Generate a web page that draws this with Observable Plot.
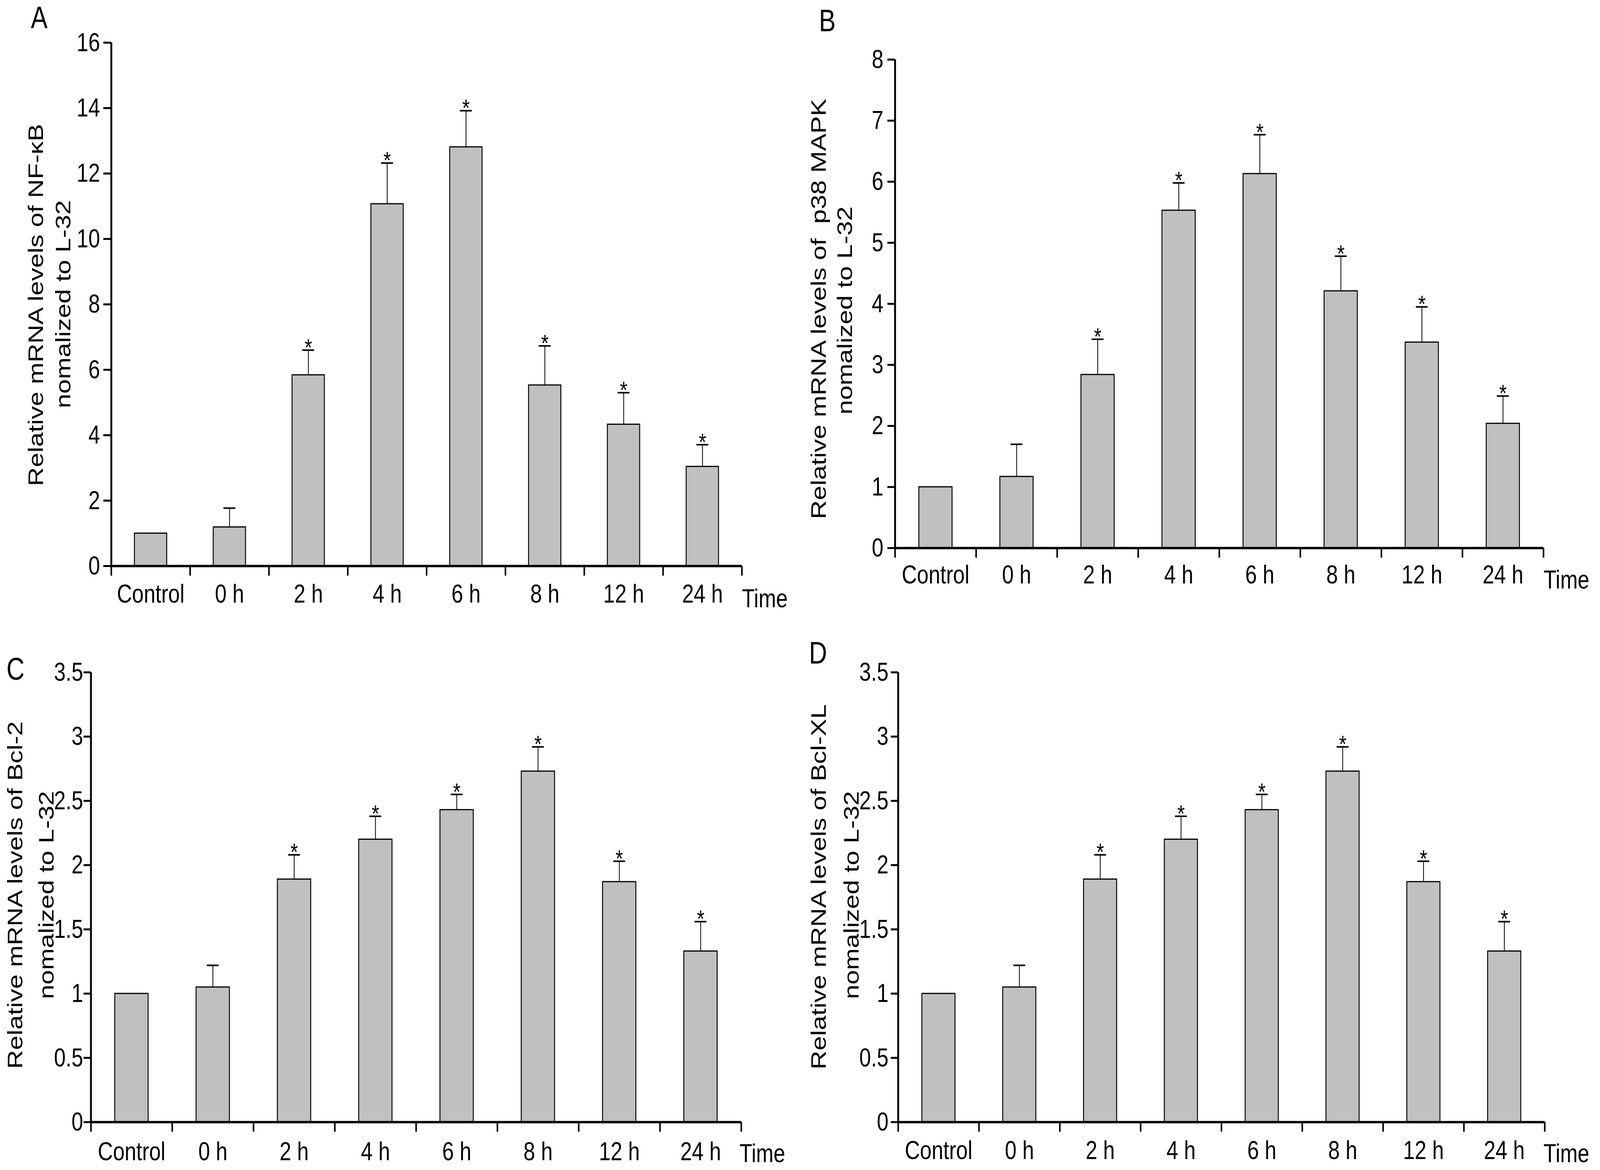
<!DOCTYPE html>
<html>
<head>
<meta charset="utf-8">
<script src="https://cdn.jsdelivr.net/npm/d3@7"></script>
<script src="https://cdn.jsdelivr.net/npm/@observablehq/plot@0.6"></script>
<style>
  html, body { margin: 0; padding: 0; background: #fff; overflow: hidden; }
  #fig { position: relative; background: #fff; overflow: hidden; }
  #fig svg { position: absolute; }
</style>
</head>
<body>
<div id="fig"></div>
<script>
// ---------------- data ----------------
const categories = ["Control", "0 h", "2 h", "4 h", "6 h", "8 h", "12 h", "24 h"];
const significant = [false, false, true, true, true, true, true, true];

const nfkbMean = [1.0, 1.19, 5.84, 11.07, 12.81, 5.53, 4.33, 3.04];
const nfkbErr  = [0, 0.58, 0.76, 1.25, 1.11, 1.20, 0.97, 0.67];

const p38Mean = [1.0, 1.17, 2.84, 5.53, 6.13, 4.21, 3.37, 2.04];
const p38Err  = [0, 0.53, 0.58, 0.45, 0.64, 0.57, 0.58, 0.45];

const bcl2Mean = [1.0, 1.05, 1.89, 2.20, 2.43, 2.73, 1.87, 1.33];
const bcl2Err  = [0, 0.17, 0.19, 0.18, 0.12, 0.19, 0.16, 0.23];

const bclxlMean = [1.0, 1.05, 1.89, 2.20, 2.43, 2.73, 1.87, 1.33];
const bclxlErr  = [0, 0.17, 0.19, 0.18, 0.12, 0.19, 0.16, 0.23];

const nfkbTicks = [0, 2, 4, 6, 8, 10, 12, 14, 16];
const p38Ticks  = [0, 1, 2, 3, 4, 5, 6, 7, 8];
const bclTicks  = [0, 0.5, 1, 1.5, 2, 2.5, 3, 3.5];

const xTitle = "Time";
const yTitle2 = "nomalized to L-32";

// ---------------- drawing ----------------
const FONT = "'Liberation Sans', Arial, Helvetica, sans-serif";
const W = 5110, H = 2994;
// fit the 5110x2994 design to the actual viewport
const VW = window.innerWidth || W, VH = window.innerHeight || H;
const SX = VW / W, SY = VH / H;
const fig = document.getElementById("fig");
fig.style.width = VW + "px";
fig.style.height = VH + "px";

function panel(cfg) {
  const {letter, title1, mean, err, ticks, box, frame, yTick, t1, t2, letterPos, time, labelPad} = cfg;
  const rows = categories.map((c, i) => ({i, c, mean: mean[i], err: err[i], sig: significant[i]}));
  const withErr = rows.filter(d => d.err > 0);
  const step = (frame.right - frame.left) / categories.length;
  const inset = step * 0.295;
  const midY = (frame.top + frame.bottom) / 2;

  const svg = Plot.plot({
    width: box.w,
    height: box.h,
    marginLeft: frame.left - box.x,
    marginRight: box.x + box.w - frame.right,
    marginTop: frame.top - box.y,
    marginBottom: box.y + box.h - frame.bottom,
    style: {fontFamily: FONT, fontSize: "67px", background: "transparent", color: "black"},
    x: {domain: [0, categories.length]},
    y: {domain: [0, ticks[ticks.length - 1]]},
    marks: [
      // bars
      Plot.rect(rows, {x1: "i", x2: d => d.i + 1, y1: 0, y2: "mean", insetLeft: inset, insetRight: inset,
        fill: "#c0c0c0", stroke: "black", strokeWidth: 3}),
      // error whiskers and caps
      Plot.ruleX(withErr, {x: d => d.i + 0.5, y1: "mean", y2: d => d.mean + d.err, stroke: "black", strokeWidth: 2.5}),
      Plot.ruleY(withErr, {y: d => d.mean + d.err, x1: d => d.i + 0.5, x2: d => d.i + 0.5,
        insetLeft: -19, insetRight: -19, stroke: "black", strokeWidth: 4}),
      // significance stars
      Plot.text(rows.filter(d => d.sig), {x: d => d.i + 0.5, y: d => d.mean + d.err, text: () => "*",
        fontSize: 62, lineAnchor: "bottom", dy: 14}),
      // axis lines
      Plot.ruleX([0], {stroke: "black", strokeWidth: 6}),
      Plot.ruleY([0], {stroke: "black", strokeWidth: 6}),
      // y axis
      Plot.axisY({ticks, tickSize: yTick.size, tickPadding: yTick.pad, tickFormat: d => String(d),
        strokeWidth: 5, fontSize: 67, label: null}),
      // x axis: boundary ticks
      Plot.axisX({ticks: d3.range(0, categories.length + 1), tickSize: 25, tickFormat: () => "",
        strokeWidth: 5, label: null}),
      // x axis: category labels
      Plot.axisX({ticks: categories.map((_, i) => i + 0.5), tickFormat: v => categories[Math.floor(v)],
        tickSize: 0, tickPadding: labelPad, fontSize: 67, label: null}),
      // x title
      Plot.text([xTitle], {text: d => d, frameAnchor: "bottom-right", textAnchor: "start", lineAnchor: "top",
        dx: time.x - frame.right, dy: time.top - frame.bottom, fontSize: 67}),
      // y title, two lines
      Plot.text([title1], {text: d => d, frameAnchor: "left", rotate: -90, textAnchor: "middle", lineAnchor: "bottom",
        dx: t1.x - frame.left, dy: t1.cy - midY, fontSize: 67}),
      Plot.text([yTitle2], {text: d => d, frameAnchor: "left", rotate: -90, textAnchor: "middle", lineAnchor: "bottom",
        dx: t2.x - frame.left, dy: t2.cy - midY, fontSize: 67}),
      // panel letter
      Plot.text([letter], {text: d => d, frameAnchor: "top-left", textAnchor: "start", lineAnchor: "bottom",
        dx: letterPos.x - frame.left, dy: letterPos.base - frame.top, fontSize: 80})
    ]
  });
  svg.setAttribute("preserveAspectRatio", "none");
  svg.style.left = (box.x * SX) + "px";
  svg.style.top = (box.y * SY) + "px";
  svg.style.width = (box.w * SX) + "px";
  svg.style.height = (box.h * SY) + "px";
  svg.style.maxWidth = "none";
  fig.append(svg);
}

panel({
  letter: "A", title1: "Relative mRNA levels of NF-κB", mean: nfkbMean, err: nfkbErr, ticks: nfkbTicks,
  box: {x: 0, y: 0, w: 2535, h: 1600},
  frame: {left: 355, right: 2369, top: 108.7, bottom: 1448},
  yTick: {size: 25, pad: 11},
  t1: {x: 137, cy: 780}, t2: {x: 224, cy: 778},
  letterPos: {x: 98, base: 71},
  time: {x: 2369, top: 1506}, labelPad: 46
});

panel({
  letter: "B", title1: "Relative mRNA levels of \u00a0p38 MAPK", mean: p38Mean, err: p38Err, ticks: p38Ticks,
  box: {x: 2500, y: 0, w: 2610, h: 1600},
  frame: {left: 2858, right: 4929, top: 152, bottom: 1402},
  yTick: {size: 24, pad: 13},
  t1: {x: 2637, cy: 790}, t2: {x: 2720, cy: 794},
  letterPos: {x: 2615, base: 79},
  time: {x: 4929, top: 1458}, labelPad: 43
});

panel({
  letter: "C", title1: "Relative mRNA levels of Bcl-2", mean: bcl2Mean, err: bcl2Err, ticks: bclTicks,
  box: {x: 0, y: 1600, w: 2520, h: 1394},
  frame: {left: 290, right: 2367, top: 1720, bottom: 2871},
  yTick: {size: 23, pad: 2},
  t1: {x: 70, cy: 2290}, t2: {x: 170, cy: 2290},
  letterPos: {x: 20, base: 1738},
  time: {x: 2361, top: 2926}, labelPad: 50
});

panel({
  letter: "D", title1: "Relative mRNA levels of Bcl-XL", mean: bclxlMean, err: bclxlErr, ticks: bclTicks,
  box: {x: 2520, y: 1600, w: 2590, h: 1394},
  frame: {left: 2868, right: 4933, top: 1720, bottom: 2871},
  yTick: {size: 23, pad: 8},
  t1: {x: 2637, cy: 2269}, t2: {x: 2741, cy: 2290},
  letterPos: {x: 2583, base: 1697},
  time: {x: 4929, top: 2926}, labelPad: 47
});
</script>
</body>
</html>
